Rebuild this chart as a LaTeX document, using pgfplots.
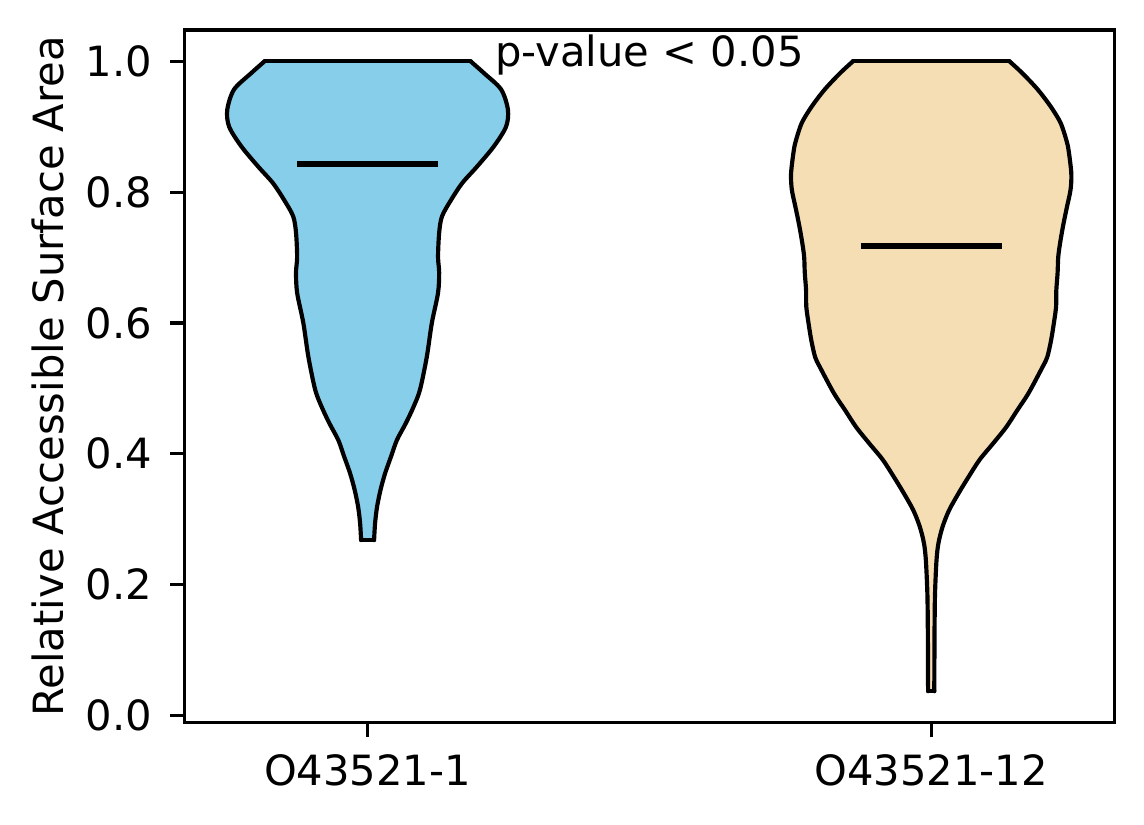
\documentclass[border=0pt]{standalone}
\usepackage{fontspec}
\setmainfont{DejaVu Sans}
\usepackage{pgfplots}
\usepackage{pgfplotstable}
\pgfplotsset{compat=1.18}
\usepgfplotslibrary{fillbetween}
\definecolor{skyblue}{HTML}{87CEEB}
\definecolor{wheat}{HTML}{F5DEB3}
% violin outlines: y, left x, right x (bottom to top)
\pgfplotstableread{
y     l      r
0.268 0.9885 1.0115
0.294 0.9867 1.0133
0.319 0.9832 1.0168
0.345 0.977  1.023
0.370 0.969  1.031
0.396 0.9583 1.0417
0.421 0.948  1.052
0.447 0.932  1.068
0.472 0.9184 1.0816
0.498 0.907  1.093
0.548 0.895  1.105
0.600 0.886  1.114
0.646 0.875  1.125
0.677 0.873  1.127
0.701 0.875  1.125
0.738 0.873  1.127
0.763 0.868  1.132
0.788 0.852  1.148
0.814 0.832  1.168
0.839 0.806  1.194
0.870 0.776  1.224
0.900 0.7544 1.2456
0.926 0.751  1.249
0.957 0.763  1.237
0.982 0.7934 1.2066
1.000 0.817  1.183
}\violinA
\pgfplotstableread{
y     l      r
0.037 1.9945 2.0055
0.085 1.9943 2.0057
0.136 1.9940 2.0060
0.187 1.9932 2.0068
0.238 1.9905 2.0095
0.264 1.987  2.013
0.289 1.9796 2.0204
0.314 1.9681 2.0319
0.340 1.9512 2.0488
0.365 1.9335 2.0665
0.391 1.914  2.086
0.416 1.890  2.110
0.441 1.8667 2.1333
0.467 1.847  2.153
0.493 1.8271 2.1729
0.533 1.8023 2.1977
0.548 1.794  2.206
0.574 1.7872 2.2128
0.600 1.7823 2.2177
0.625 1.7784 2.2216
0.650 1.778  2.222
0.677 1.7757 2.2243
0.702 1.7745 2.2255
0.727 1.7704 2.2296
0.753 1.765  2.235
0.778 1.759  2.241
0.804 1.7527 2.2473
0.829 1.7514 2.2486
0.864 1.7562 2.2438
0.880 1.7603 2.2397
0.906 1.7704 2.2296
0.931 1.788  2.212
0.957 1.811  2.189
0.982 1.8383 2.1617
1.000 1.861  2.139
}\violinB
\begin{document}
\begin{tikzpicture}
\begin{axis}[
  at={(44.26pt,24.31pt)}, anchor=south west,
  scale only axis, width=223.18pt, height=166.27pt,
  xmin=0.675, xmax=2.325, ymin=-0.01115, ymax=1.04815,
  xtick={1,2}, xticklabels={O43521-1,O43521-12},
  ytick={0,0.2,0.4,0.6,0.8,1.0},
  xtick pos=lower, ytick pos=left,
  tick align=outside, major tick length=3.4pt,
  tick style={black, line width=0.8pt},
  axis line style={black, line width=0.8pt},
  /pgf/number format/assume math mode=true,
  yticklabel style={/pgf/number format/.cd, fixed, fixed zerofill, precision=1, /tikz/.cd,
    anchor=east, inner sep=0pt, xshift=-7.61pt+3.4pt},
  xticklabel style={anchor=base, inner sep=0pt, yshift=-14.95pt+3.4pt},
  ylabel={Relative Accessible Surface Area},
  ylabel style={at={(axis description cs:-0.1303,0.5)}, anchor=base, inner sep=0pt},
]
% ---- violin 1 (O43521-1)
\addplot[draw=none, smooth, tension=0.5, name path=BL] table[x=l, y=y] {\violinA};
\addplot[draw=none, smooth, tension=0.5, name path=BR] table[x=r, y=y] {\violinA};
\addplot[fill=skyblue, draw=none] fill between[of=BL and BR, reverse=true];
\addplot[black, line width=1pt, smooth, tension=0.5, line cap=round, line join=round] table[x=l, y=y] {\violinA};
\addplot[black, line width=1pt, smooth, tension=0.5, line cap=round, line join=round] table[x=r, y=y] {\violinA};
\addplot[black, line width=1pt, line cap=round] coordinates {(0.817,1.000)(1.183,1.000)};
\addplot[black, line width=1pt, line cap=round] coordinates {(0.9885,0.268)(1.0115,0.268)};
% ---- violin 2 (O43521-12)
\addplot[draw=none, smooth, tension=0.5, name path=OL] table[x=l, y=y] {\violinB};
\addplot[draw=none, smooth, tension=0.5, name path=OR] table[x=r, y=y] {\violinB};
\addplot[fill=wheat, draw=none] fill between[of=OL and OR, reverse=true];
\addplot[black, line width=1pt, smooth, tension=0.5, line cap=round, line join=round] table[x=l, y=y] {\violinB};
\addplot[black, line width=1pt, smooth, tension=0.5, line cap=round, line join=round] table[x=r, y=y] {\violinB};
\addplot[black, line width=1pt, line cap=round] coordinates {(1.861,1.000)(2.139,1.000)};
\addplot[black, line width=1pt, line cap=round] coordinates {(1.9945,0.037)(2.0055,0.037)};
% ---- medians
\addplot[black, line width=1.5pt] coordinates {(0.875,0.843)(1.125,0.843)};
\addplot[black, line width=1.5pt] coordinates {(1.875,0.7177)(2.125,0.7177)};
\node[anchor=base, inner sep=0pt] at (axis cs:1.5,0.992) {p-value < 0.05};
\end{axis}
\pgfresetboundingbox
\useasboundingbox (0,0) rectangle (274.56pt,197.76pt);
\end{tikzpicture}
\end{document}
